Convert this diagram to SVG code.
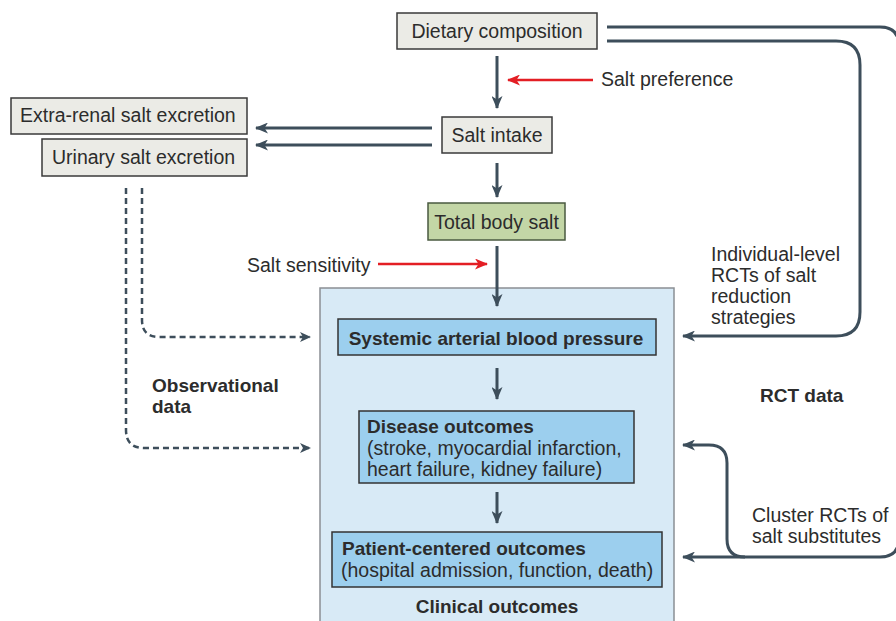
<svg xmlns="http://www.w3.org/2000/svg" width="896" height="621" viewBox="0 0 896 621">
<defs>
<style>
text{font-family:"Liberation Sans",Arial,sans-serif;fill:#2c2c2c;}
.r{font-size:19.5px;}
.b{font-size:19px;font-weight:bold;}
.c{text-anchor:middle;}
.grey{fill:#ebebe6;stroke:#3a3a3a;stroke-width:1.5;}
.green{fill:#c3d6a6;stroke:#4a5a40;stroke-width:1.5;}
.clin{fill:#d8eaf6;stroke:#8a8f94;stroke-width:1.5;}
.blue{fill:#9ccfee;stroke:#333;stroke-width:1.5;}
.dk{fill:none;stroke:#3d4e5b;stroke-width:3;}
.red{fill:none;stroke:#e31e24;stroke-width:2.5;}
.dash{fill:none;stroke:#3d4e5b;stroke-width:2.5;stroke-dasharray:6 4;}
</style>
<marker id="ad" markerUnits="userSpaceOnUse" markerWidth="13" markerHeight="11" viewBox="0 0 13 11" refX="12" refY="5.5" orient="auto">
<path d="M0,0 L13,5.5 L0,11 L3.5,5.5 z" fill="#3d4e5b"/>
</marker>
<marker id="ar" markerUnits="userSpaceOnUse" markerWidth="13" markerHeight="11" viewBox="0 0 13 11" refX="12" refY="5.5" orient="auto">
<path d="M0,0 L13,5.5 L0,11 L3.5,5.5 z" fill="#e31e24"/>
</marker>
<marker id="as" markerUnits="userSpaceOnUse" markerWidth="11" markerHeight="10" viewBox="0 0 11 10" refX="10" refY="5" orient="auto">
<path d="M0,0 L11,5 L0,10 L3,5 z" fill="#3d4e5b"/>
</marker>
</defs>

<g id="clinical-outcomes">
<rect class="clin" x="320" y="288" width="354" height="345"/>
<text class="b c" x="497" y="613">Clinical outcomes</text>
</g>

<g id="connectors">
<line class="dk" x1="497" y1="56" x2="497" y2="108" marker-end="url(#ad)"/>
<line class="red" x1="593" y1="80" x2="508" y2="80" marker-end="url(#ar)"/>
<line class="dk" x1="432" y1="128" x2="256" y2="128" marker-end="url(#ad)"/>
<line class="dk" x1="432" y1="145" x2="256" y2="145" marker-end="url(#ad)"/>
<line class="dk" x1="497" y1="163" x2="497" y2="197" marker-end="url(#ad)"/>
<line class="dk" x1="497" y1="246" x2="497" y2="306" marker-end="url(#ad)"/>
<line class="red" x1="378" y1="264" x2="487" y2="264" marker-end="url(#ar)"/>
<line class="dk" x1="497" y1="368" x2="497" y2="399" marker-end="url(#ad)"/>
<line class="dk" x1="497" y1="492" x2="497" y2="523" marker-end="url(#ad)"/>
<path class="dash" d="M142,188 V320 Q142,337 159,337 H310" marker-end="url(#as)"/>
<path class="dash" d="M126,188 V430 Q126,448 144,448 H310" marker-end="url(#as)"/>
<path class="dk" d="M607,41 H836 Q860,41 860,65 V312 Q860,336 836,336 H683" marker-end="url(#ad)"/>
<path class="dk" d="M607,27 H880 Q899,27 899,46 V538 Q899,557 880,557 H683" marker-end="url(#ad)"/>
<path class="dk" d="M745,557 Q727,557 727,539 V463 Q727,445 709,445 H683" marker-end="url(#ad)"/>
</g>

<g id="dietary-composition">
<rect class="grey" x="397" y="13" width="200" height="36"/>
<text class="r c" x="497" y="38">Dietary composition</text>
</g>
<g id="salt-preference">
<text class="r" x="601" y="86">Salt preference</text>
</g>
<g id="salt-intake">
<rect class="grey" x="442" y="117" width="110" height="36"/>
<text class="r c" x="497" y="142">Salt intake</text>
</g>
<g id="extra-renal">
<rect class="grey" x="11" y="98" width="236" height="36"/>
<text class="r" x="20" y="122">Extra-renal salt excretion</text>
</g>
<g id="urinary">
<rect class="grey" x="42" y="139" width="205" height="37"/>
<text class="r" x="52" y="164">Urinary salt excretion</text>
</g>
<g id="total-body-salt">
<rect class="green" x="428" y="203" width="137" height="37"/>
<text class="r c" x="496.5" y="229">Total body salt</text>
</g>
<g id="salt-sensitivity">
<text class="r" x="247" y="272">Salt sensitivity</text>
</g>
<g id="sabp">
<rect class="blue" x="338" y="319" width="318" height="36"/>
<text class="b c" x="496" y="345">Systemic arterial blood pressure</text>
</g>
<g id="disease-outcomes">
<rect class="blue" x="359" y="411" width="275" height="72"/>
<text class="b" x="367" y="433">Disease outcomes</text>
<text class="r" x="367" y="455">(stroke, myocardial infarction,</text>
<text class="r" x="367" y="476">heart failure, kidney failure)</text>
</g>
<g id="patient-outcomes">
<rect class="blue" x="332" y="532" width="330" height="55"/>
<text class="b" x="342" y="555">Patient-centered outcomes</text>
<text class="r" x="341" y="577">(hospital admission, function, death)</text>
</g>
<g id="observational-data">
<text class="b" x="152" y="392">Observational</text>
<text class="b" x="152" y="413">data</text>
</g>
<g id="individual-rcts">
<text class="r" x="711" y="261">Individual-level</text>
<text class="r" x="711" y="282">RCTs of salt</text>
<text class="r" x="711" y="303">reduction</text>
<text class="r" x="711" y="324">strategies</text>
</g>
<g id="rct-data">
<text class="b" x="760" y="402">RCT data</text>
</g>
<g id="cluster-rcts">
<text class="r" x="752" y="522">Cluster RCTs of</text>
<text class="r" x="752" y="543">salt substitutes</text>
</g>
</svg>
